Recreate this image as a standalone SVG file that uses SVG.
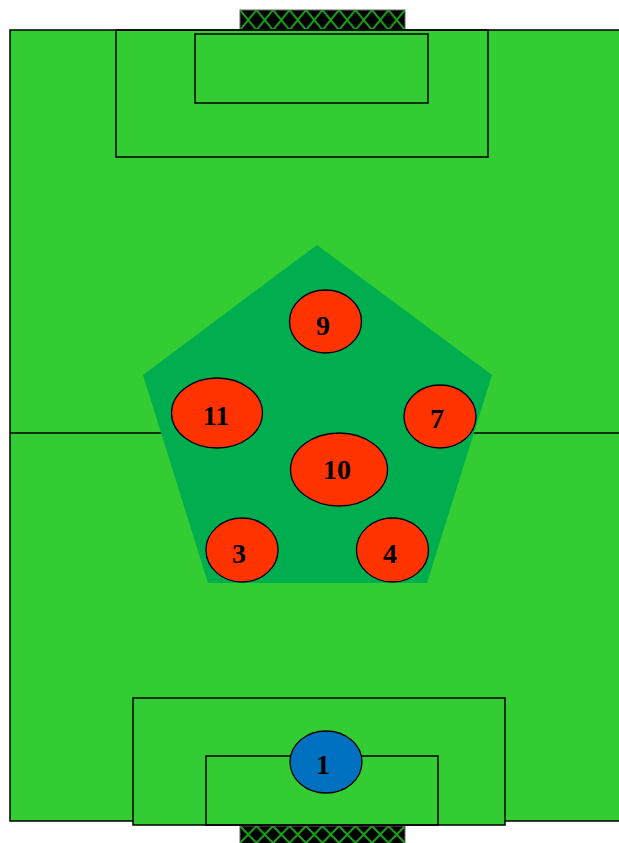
<svg xmlns="http://www.w3.org/2000/svg" width="619" height="843" viewBox="0 0 619 843">
<defs>
<pattern id="net" x="240" y="10" width="16.5" height="20" patternUnits="userSpaceOnUse">
<rect width="16.5" height="20" fill="#000"/>
<path d="M0,0 L16.5,20 M16.5,0 L0,20" stroke="#1aa31a" stroke-width="2" fill="none"/>
</pattern>
<pattern id="net2" x="240" y="826" width="16.5" height="17" patternUnits="userSpaceOnUse">
<rect width="16.5" height="17" fill="#000"/>
<path d="M0,0 L16.5,17 M16.5,0 L0,17" stroke="#1aa31a" stroke-width="2" fill="none"/>
</pattern>
</defs>
<style>
.line{fill:none;stroke:#000;stroke-width:1.5}
.field{fill:#33cc33;stroke:#000;stroke-width:1.5}
.red{fill:#ff3300;stroke:#000;stroke-width:1.3}
.blue{fill:#0070c0;stroke:#000;stroke-width:1.3}
.lbl{font-family:"Liberation Serif",serif;font-weight:bold;font-size:28px;text-anchor:middle;fill:#000}
</style>
<rect width="619" height="843" fill="#fff"/>
<g id="goal-top"><rect x="240" y="10" width="165" height="20" fill="url(#net)" stroke="#666" stroke-width="1"/></g>
<g id="goal-bottom"><rect x="240" y="826" width="165" height="20" fill="url(#net2)" stroke="#666" stroke-width="1"/></g>
<g id="pitch">
<rect class="field" x="10" y="30" width="615" height="791"/>
<line class="line" x1="10" y1="433" x2="619" y2="433"/>
<rect class="line" x="116" y="30" width="372" height="127"/>
<rect class="line" x="195" y="34" width="233" height="69"/>
<rect class="field" x="133" y="698" width="372" height="127"/>
<rect class="line" x="206" y="756" width="232" height="69"/>
</g>
<g id="formation"><polygon points="317,245 492,375 427,583 208,583 143,375" fill="#00ad4f"/></g>
<g id="p9"><ellipse class="red" cx="325.5" cy="321.5" rx="36" ry="31.5"/><text class="lbl" x="323" y="335">9</text></g>
<g id="p11"><ellipse class="red" cx="217" cy="413" rx="45.5" ry="35"/><text class="lbl" x="216" y="425">11</text></g>
<g id="p7"><ellipse class="red" cx="440" cy="416.5" rx="36" ry="31.5"/><text class="lbl" x="437" y="428">7</text></g>
<g id="p10"><ellipse class="red" cx="339" cy="469.5" rx="48.5" ry="36.5"/><text class="lbl" x="337" y="479">10</text></g>
<g id="p3"><ellipse class="red" cx="242" cy="550" rx="36" ry="32"/><text class="lbl" x="239" y="563">3</text></g>
<g id="p4"><ellipse class="red" cx="392.5" cy="550" rx="36" ry="32"/><text class="lbl" x="390" y="563">4</text></g>
<g id="p1"><ellipse class="blue" cx="326" cy="762" rx="36" ry="31"/><text class="lbl" x="323" y="774">1</text></g>
<g id="connectors"></g>
</svg>
